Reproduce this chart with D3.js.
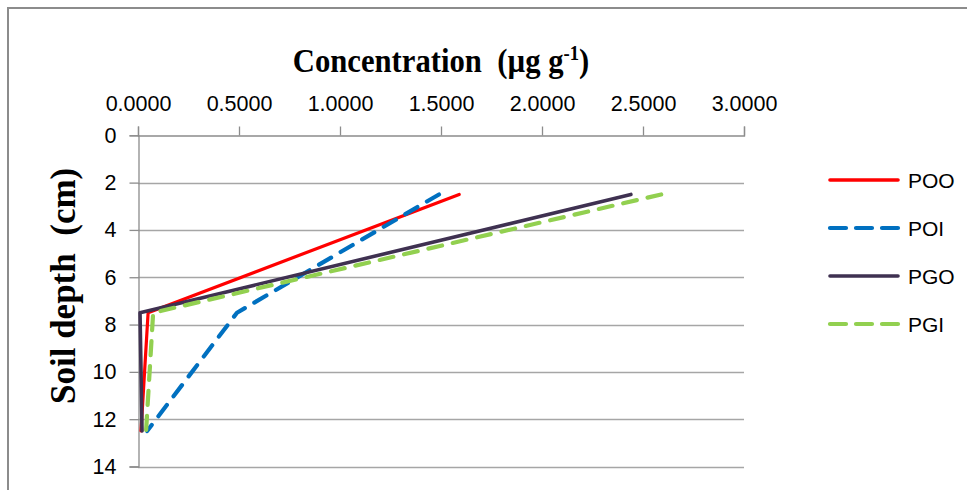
<!DOCTYPE html>
<html>
<head>
<meta charset="utf-8">
<script src="https://cdn.jsdelivr.net/npm/d3@7"></script>
<style>
  html, body { margin: 0; padding: 0; background: #fff; }
  svg { display: block; }
  text { white-space: pre; }
</style>
</head>
<body>
<svg id="chart" width="967" height="490"></svg>
<script>
// Sampling depths (cm) and concentrations (µg g-1) per treatment
const depths = [2.5, 7.5, 12.5];
const seriesNames = ["POO", "POI", "PGO", "PGI"];
const POO = [1.59, 0.05, 0.015];
const POI = [1.49, 0.49, 0.045];
const PGO = [2.44, 0.01, 0.02];
const PGI = [2.59, 0.075, 0.04];
const xTicks = [0, 0.5, 1.0, 1.5, 2.0, 2.5, 3.0];
const yTicks = [0, 2, 4, 6, 8, 10, 12, 14];

const seriesValues = { POO, POI, PGO, PGI };
const seriesStyle = {
  POO: { color: "#FF0000", width: 3.2, dash: null },
  POI: { color: "#0070C0", width: 4.2, dash: "14,11" },
  PGO: { color: "#3F3151", width: 3.6, dash: null },
  PGI: { color: "#92D050", width: 4.2, dash: "14,11" }
};

const svg = d3.select("#chart");

const x = d3.scaleLinear().domain([0, 3]).range([138, 744]);
const y = d3.scaleLinear().domain([0, 14]).range([135.3, 466.5]);

const gridColor = "#a6a6a6";
const axisColor = "#8c8c8c";
const labelFont = "'Liberation Sans', Arial, sans-serif";
const titleFont = "'Liberation Serif', 'Times New Roman', serif";

// Outer chart frame
svg.append("rect")
  .attr("x", 8).attr("y", 8)
  .attr("width", 1100).attr("height", 1100)
  .attr("fill", "none")
  .attr("stroke", "#8c8c8c")
  .attr("stroke-width", 2);

// Horizontal gridlines
svg.append("g")
  .selectAll("line")
  .data(yTicks.filter(d => d > 0))
  .join("line")
  .attr("x1", x(0)).attr("x2", x(3))
  .attr("y1", d => Math.round(y(d)) + 0.5)
  .attr("y2", d => Math.round(y(d)) + 0.5)
  .attr("stroke", gridColor)
  .attr("stroke-width", 1.3);

// Top (value) axis
const xAxis = d3.axisTop(x)
  .tickValues(xTicks)
  .tickSize(9)
  .tickPadding(16)
  .tickFormat(d3.format(".4f"));
const gx = svg.append("g")
  .attr("transform", `translate(0,${Math.round(y(0)) + 0.5})`)
  .call(xAxis);
gx.select(".domain").attr("stroke", axisColor).attr("stroke-width", 1.3);
gx.selectAll(".tick line").attr("stroke", axisColor).attr("stroke-width", 1.3);
gx.selectAll(".tick text")
  .attr("font-family", labelFont)
  .attr("font-size", 21.5)
  .attr("fill", "#000");

// Left (depth) axis
const yAxis = d3.axisLeft(y)
  .tickValues(yTicks)
  .tickSize(9)
  .tickPadding(13)
  .tickFormat(d3.format("d"));
const gy = svg.append("g")
  .attr("transform", `translate(${Math.round(x(0)) + 0.5},0)`)
  .call(yAxis);
gy.select(".domain").attr("stroke", axisColor).attr("stroke-width", 1.3);
gy.selectAll(".tick line").attr("stroke", axisColor).attr("stroke-width", 1.3);
gy.selectAll(".tick text")
  .attr("font-family", labelFont)
  .attr("font-size", 21.5)
  .attr("fill", "#000");

// Series lines
const line = d3.line()
  .x(d => x(d.v))
  .y(d => y(d.depth));

seriesNames.forEach(name => {
  const st = seriesStyle[name];
  const pts = depths.map((dep, i) => ({ depth: dep, v: seriesValues[name][i] }));
  svg.append("path")
    .datum(pts)
    .attr("d", line)
    .attr("fill", "none")
    .attr("stroke", st.color)
    .attr("stroke-width", st.width)
    .attr("stroke-linecap", "round")
    .attr("stroke-linejoin", "round")
    .attr("stroke-dasharray", st.dash);
});

// Axis titles
const title = svg.append("text")
  .attr("transform", `translate(${(x(0) + x(3)) / 2},72) scale(0.93,1)`)
  .attr("text-anchor", "middle")
  .attr("font-family", titleFont)
  .attr("font-weight", "bold")
  .attr("font-size", 33)
  .attr("fill", "#000");
title.append("tspan").text("Concentration  (µg g");
title.append("tspan").text("-1").attr("font-size", 20).attr("dy", -12);
title.append("tspan").text(")").attr("dy", 12);

svg.append("text")
  .attr("transform", `translate(75,${(y(0) + y(14)) / 2 - 15}) rotate(-90)`)
  .attr("text-anchor", "middle")
  .attr("font-family", titleFont)
  .attr("font-weight", "bold")
  .attr("font-size", 35)
  .attr("fill", "#000")
  .text("Soil depth  (cm)");

// Legend
const legend = svg.append("g");
seriesNames.forEach((name, i) => {
  const st = seriesStyle[name];
  const ly = 180 + i * 48;
  legend.append("line")
    .attr("x1", 830).attr("x2", 898)
    .attr("y1", ly).attr("y2", ly)
    .attr("stroke", st.color)
    .attr("stroke-width", st.dash ? 4.2 : 3.6)
    .attr("stroke-linecap", "round")
    .attr("stroke-dasharray", st.dash ? "16,10" : null);
  legend.append("text")
    .attr("x", 908)
    .attr("y", ly)
    .attr("dy", "0.36em")
    .attr("font-family", labelFont)
    .attr("font-size", 21)
    .attr("fill", "#000")
    .text(name);
});
</script>
</body>
</html>
